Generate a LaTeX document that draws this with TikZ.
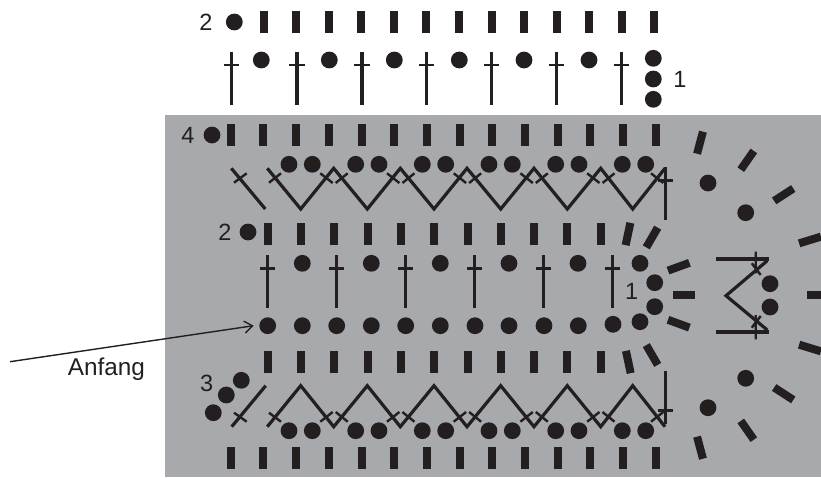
\documentclass[tikz,border=0pt]{standalone}
\usepackage{fontspec}
\setmainfont{Liberation Sans}
\usetikzlibrary{arrows.meta}
\definecolor{ink}{HTML}{231F20}
\definecolor{panel}{HTML}{A7A9AC}
\tikzset{
  x=1pt,y=-1pt,
  dotm/.style={circle,fill=ink,draw=none,inner sep=0pt,minimum size=16.8pt},
  barm/.style={rectangle,fill=ink,draw=none,inner sep=0pt,minimum width=8pt,minimum height=22.8pt},
  lbl/.style={font=\fontsize{23.5}{23.5}\selectfont,text=ink,inner sep=0pt},
  stem/.style={draw=ink,line width=3.4pt},
  crossb/.style={draw=ink,line width=2.6pt},
  zig/.style={draw=ink,line width=3.2pt,line join=miter},
  tick/.style={draw=ink,line width=2.4pt}
}
\newcommand{\dagm}[4]{% x, top, bottom, bar y
  \draw[stem] (#1,#2) -- (#1,#3);
  \draw[crossb] (#1-7.6,#4) -- (#1+7.6,#4);}
\begin{document}
\begin{tikzpicture}
\useasboundingbox (0,0) rectangle (821,477);
\fill[panel] (165,115) rectangle (821,477);
% top rows
\node[dotm] (d0) at (234.3,22) {};
\node[lbl] (t2a) at (206,22) {2};
\foreach \i in {0,...,12} \node[barm] (ba\i) at ({263.7+32.55*\i},22) {};
\foreach \x in {231.3,297,362,426.7,491.7,556.3,621.3} {\dagm{\x}{52}{105}{65}}
\foreach \x in {261.3,329.3,394.3,459.3,524,589} \node[dotm] at (\x,60) {};
\foreach \y in {58.3,79,99.3} \node[dotm] at (653.3,\y) {};
\node[lbl] (t1a) at (680,79) {1};
% row 4
\node[lbl] (t4) at (188,135) {4};
\node[dotm] at (212,135) {};
\foreach \i in {0,...,13} \node[barm] at ({230.7+32.7*\i},135) {};
% upper and lower dot pairs
\foreach \x in {289,312.3,355.7,379,422.3,445.7,489,512.3,555.7,579,622.3,645.7} {
  \node[dotm] at (\x,164.3) {};
  \node[dotm] at (\x,430.7) {};
}
% upper zigzag
\draw[zig] (231.3,168.3) -- (265.3,209);
\draw[zig] (267.3,168.3) -- (300.7,209) -- (333.7,168.3) -- (367.3,209) -- (400.3,168.3) -- (434,209) -- (467,168.3) -- (500.7,209) -- (534,168.3) -- (567.3,209) -- (600.7,168.3) -- (632.7,209) -- (665,168.3);
% lower zigzag
\draw[zig] (231.7,426.7) -- (265.7,385.7);
\draw[zig] (267.3,426.7) -- (300.7,385.7) -- (333.7,426.7) -- (367.3,385.7) -- (400.3,426.7) -- (434,385.7) -- (467,426.7) -- (500.7,385.7) -- (534,426.7) -- (567.3,385.7) -- (600.7,426.7) -- (632.7,385.7) -- (665,426.7);
% ticks upper / lower
\draw[tick] (234,182.7) -- (246.7,173.3) (269,182.7) -- (281,173.3);
\draw[tick] (234,412.7) -- (246.7,421.7) (269,412.7) -- (281,421.7);
\foreach \i in {0,...,4} {
  \draw[tick] ({320.3+66.7*\i},173.3) -- ({332.7+66.7*\i},183);
  \draw[tick] ({335.7+66.7*\i},183) -- ({347.7+66.7*\i},173.3);
  \draw[tick] ({320.3+66.7*\i},421.7) -- ({332.7+66.7*\i},412);
  \draw[tick] ({335.7+66.7*\i},412) -- ({347.7+66.7*\i},421.7);
}
\draw[tick] (651,173.3) -- (663.3,183);
\draw[tick] (651,421.7) -- (663.3,412);
\dagm{665.3}{166.7}{220}{180.3}
\dagm{665.3}{371}{424}{410.3}
% row 2
\node[lbl] (t2b) at (225,232) {2};
\node[dotm] at (248,232) {};
\foreach \i in {0,...,10} {
  \node[barm] at ({267.7+33.3*\i},234) {};
  \node[barm] at ({267.7+33.3*\i},362) {};
}
\node[barm,rotate=-12] at (628,234) {};
\node[barm,rotate=-30] at (652,237.5) {};
\node[barm,rotate=12] at (628.3,362) {};
\node[barm,rotate=30] at (652,355) {};
% middle daggers and dots
\foreach \x in {267.7,336.7,405.7,474.7,543.3,612.3} {\dagm{\x}{255}{308.3}{268.7}}
\foreach \x in {302.3,371.3,440.3,509,578,640} \node[dotm] at (\x,263.3) {};
\node[dotm] at (654.7,282.7) {};
\node[dotm] at (654.7,306.7) {};
\node[dotm] at (640,321.7) {};
\node[lbl] (t1b) at (631.7,291) {1};
\node[dotm] (start) at (267.7,325.7) {};
\foreach \x in {302.3,336.7,371.3,405.7,440.3,475,509,544,578.3} \node[dotm] at (\x,325.7) {};
\node[dotm] at (613,324.3) {};
% row 3 and bottom
\node[lbl] (t3) at (206.7,383) {3};
\node[dotm] at (241.3,380.3) {};
\node[dotm] at (226.3,395) {};
\node[dotm] at (213.3,412.7) {};
\foreach \i in {0,...,13} \node[barm] at ({230.7+32.7*\i},458) {};
% right fan
\node[barm,rotate=-70] at (678.7,266.7) {};
\node[barm,rotate=90] at (684,295) {};
\node[barm,rotate=70] at (678.7,323.7) {};
\node[barm,rotate=-15] at (700,142.7) {};
\node[barm,rotate=-35] at (747.3,160.3) {};
\node[barm,rotate=-57] at (783.7,194.7) {};
\node[barm,rotate=-73] at (810,240) {};
\node[barm,rotate=90] at (818,295) {};
\node[barm,rotate=73] at (810,348) {};
\node[barm,rotate=57] at (783.7,393.7) {};
\node[barm,rotate=35] at (747.3,430.3) {};
\node[barm,rotate=15] at (700,447.7) {};
\node[dotm] at (708,183) {};
\node[dotm] at (745.7,212.7) {};
\node[dotm] at (745.7,378.3) {};
\node[dotm] at (708,407.7) {};
% centre motif
\draw[zig] (716.3,259) -- (769,259);
\draw[zig] (716.3,332) -- (769,332);
\draw[zig] (767.3,260.7) -- (726,295.7) -- (767.3,330);
\draw[tick] (755.7,251.7) -- (755.7,273.3) (751.7,263.3) -- (760.7,275);
\draw[tick] (755.7,315) -- (755.7,339.3) (751.7,327.7) -- (760.7,316);
\node[dotm] at (770,283.7) {};
\node[dotm] at (770,307) {};
% arrow
\coordinate (tail) at (10,361.7);
\draw[draw=ink,line width=1.4pt,-{Straight Barb[length=8pt,width=12pt]}] (tail) -- ([xshift=-5.5pt]start.west);
\node[lbl,font=\fontsize{24.3}{24.3}\selectfont] (anf) at (106.5,369) {Anfang};
\end{tikzpicture}
\end{document}
